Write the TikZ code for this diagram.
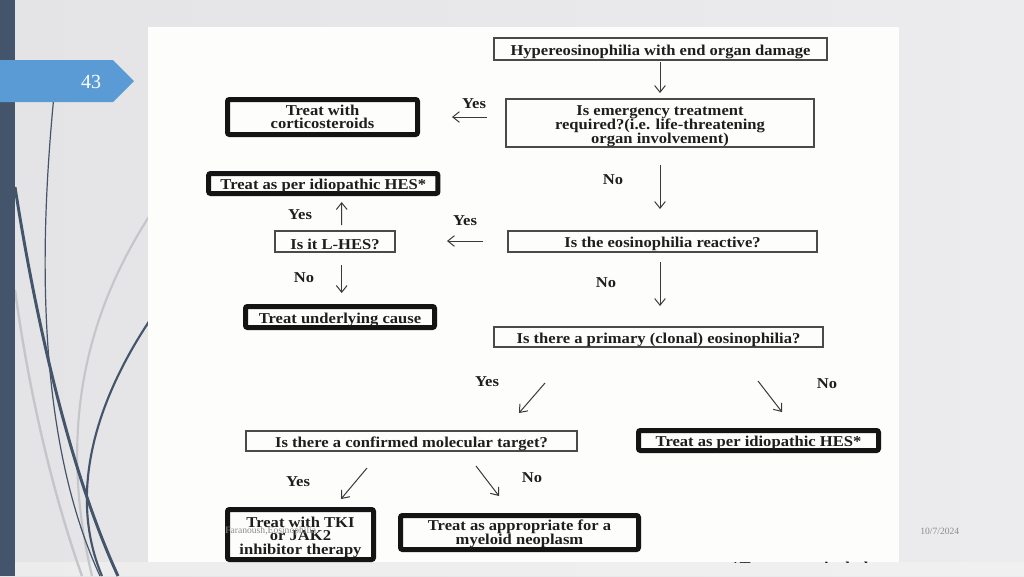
\documentclass[tikz,border=0pt]{standalone}
\usepackage{fontspec}
\setmainfont{Liberation Serif}[FakeStretch=1.1]
\newfontfamily\plainfont{Liberation Serif}
\usetikzlibrary{arrows.meta,calc}
\definecolor{slate}{HTML}{44546A}
\definecolor{banner}{HTML}{5B9BD5}
\definecolor{bgleft}{HTML}{E4E4E6}
\definecolor{bgright}{HTML}{ECECEE}
\definecolor{panel}{HTML}{FDFDFC}
\definecolor{thinline}{HTML}{4A4A4A}
\definecolor{txt}{HTML}{1E1E1E}
\definecolor{arrcol}{HTML}{3A3A3A}
\definecolor{curvegray}{HTML}{C4C6C9}
\definecolor{footgray}{HTML}{8C8C8C}
\newcommand\bxfont{\fontsize{11.3}{10.2}\selectfont\lineskiplimit=-6pt\bfseries}
\tikzset{
  box/.style={draw=thinline, line width=1pt, inner sep=0pt, outer sep=0pt,
    align=center, font=\bxfont, text=txt,
    execute at begin node={\rule{0pt}{11.5pt}}},
  tbox/.style={box, draw=black!92, line width=3.75pt, rounded corners=1.5pt},
  lift/.style={execute at begin node={\rule{0pt}{#1}}},
  lab/.style={font=\bxfont, text=txt, inner sep=0pt},
  arr/.style={draw=arrcol, line width=0.75pt, -{Straight Barb[length=5pt,width=8pt]}},
  foot/.style={font=\plainfont\fontsize{7.2}{8}\selectfont, text=footgray, inner sep=0pt}
}
\begin{document}
\begin{tikzpicture}[x=0.75pt,y=-0.75pt]
\useasboundingbox (0,0) rectangle (1024,576);
% background
\shade[left color=bgleft, right color=bgright] (0,0) rectangle (1024,576);
\fill[black!4, opacity=0.5] (0,562) rectangle (1024,576);
% decorative curves
\draw[curvegray, line width=1.8pt] (15,290) .. controls (30,400) and (55,500) .. (82,576);
\draw[curvegray, line width=1.6pt] (150,215) .. controls (92,305) and (55,420) .. (92,576);
\draw[slate, line width=0.9pt] (54,95) .. controls (44,200) and (28,420) .. (100,576);
\draw[slate, line width=2.2pt] (15,187) .. controls (28,270) and (60,450) .. (118,576);
\draw[slate, line width=1.6pt] (150,320) .. controls (90,410) and (70,500) .. (102,576);
% left bar and banner
\fill[slate] (0,0) rectangle (15,576);
\fill[banner] (0,60) -- (113,60) -- (134,81) -- (113,102) -- (0,102) -- cycle;
\node[text=white, font=\plainfont\fontsize{15}{16}\selectfont, inner sep=0pt] (num) at (91,82) {43};
% white panel
\fill[panel] (148,27) rectangle (899,562);
% boxes
\node[box, minimum width=249.75pt, minimum height=16.5pt] (top) at (660.5,49) {Hypereosinophilia with end organ damage};
\node[box, lift=32.6pt, minimum width=231pt, minimum height=36pt] (emerg) at (660,123) {Is emergency treatment\\required?(i.e. life-threatening\\organ involvement)};
\node[tbox, minimum width=142.5pt, minimum height=26.25pt] (cortico) at (322.5,117) {Treat with\\corticosteroids};
\node[tbox, minimum width=172pt, minimum height=15pt] (idioU) at (323.3,183.5) {Treat as per idiopathic HES*};
\node[box, minimum width=90pt, minimum height=15.75pt] (lhes) at (335,241.5) {Is it L-HES?};
\node[tbox, minimum width=141.75pt, minimum height=15.75pt] (under) at (340,317) {Treat underlying cause};
\node[box, minimum width=231.75pt, minimum height=15.75pt] (react) at (662.5,241.5) {Is the eosinophilia reactive?};
\node[box, minimum width=246.75pt, minimum height=15pt] (primary) at (658.5,337) {Is there a primary (clonal) eosinophilia?};
\node[box, minimum width=248.25pt, minimum height=15pt] (target) at (411.5,441) {Is there a confirmed molecular target?};
\node[tbox, minimum width=180pt, minimum height=15pt] (idioL) at (758.5,440.5) {Treat as per idiopathic HES*};
\node[tbox, lift=32.5pt, minimum width=109.5pt, minimum height=37.5pt] (tki) at (300.5,534.5) {Treat with TKI\\or JAK2\\inhibitor therapy};
\node[tbox, lift=20.1pt, minimum width=178.5pt, minimum height=25.5pt] (myel) at (519.5,532.5) {Treat as appropriate for a\\myeloid neoplasm};
% labels
\node[lab] (l1) at (474,104) {Yes};
\node[lab] (l2) at (613,180) {No};
\node[lab] (l3) at (300,215) {Yes};
\node[lab] (l4) at (465,221) {Yes};
\node[lab] (l5) at (304,278) {No};
\node[lab] (l6) at (606,283) {No};
\node[lab] (l7) at (487,382) {Yes};
\node[lab] (l8) at (827,384) {No};
\node[lab] (l9) at (298,482) {Yes};
\node[lab] (l10) at (532,478) {No};
% arrows
\draw[arr] ($(top.south)+(-0.5,2)$) -- ($(emerg.north)+(0,-6)$);
\draw[arr] ($(emerg.west)+(-19,-6)$) -- ($(cortico.east)+(34.5,0)$);
\draw[arr] ($(emerg.south)+(0,18)$) -- ($(react.north)+(-2.5,-22)$);
\draw[arr] ($(react.west)+(-25,-0.5)$) -- ($(lhes.east)+(52,-0.5)$);
\draw[arr] ($(lhes.north)+(6.7,-6)$) -- ($(idioU.south)+(18.4,8.5)$);
\draw[arr] ($(lhes.south)+(6.7,13)$) -- ($(under.north)+(1.7,-13.5)$);
\draw[arr] ($(react.south)+(-2.5,10)$) -- ($(primary.north)+(1.5,-21)$);
\draw[arr] ($(primary.south)+(-113.5,36)$) -- ($(target.north)+(107.5,-18)$);
\draw[arr] ($(primary.south)+(99.5,34)$) -- ($(idioL.north)+(23.5,-18.5)$);
\draw[arr] ($(target.south)+(-44.5,17)$) -- ($(tki.north)+(40.5,-10.5)$);
\draw[arr] ($(target.south)+(64.5,15)$) -- ($(myel.north)+(-20.5,-19.5)$);
% clipped footnote
\begin{scope}
\clip (148,27) rectangle (899,562);
\node[lab, anchor=base] (note) at (803.5,572) {*Treatments include};
\end{scope}
% footers
\node[foot, anchor=base west] (author) at (225,533) {Faranoush,Eosinophilia};
\node[foot, anchor=base west] (date) at (920,534) {10/7/2024};
\end{tikzpicture}
\end{document}
